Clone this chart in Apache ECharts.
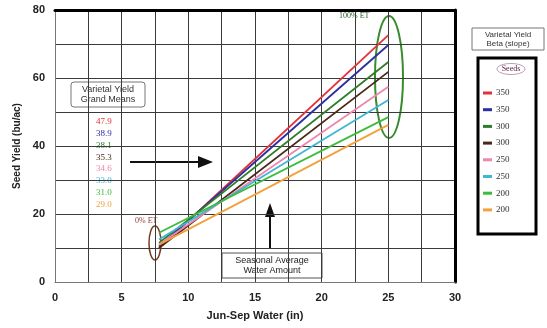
<!DOCTYPE html>
<html>
<head>
<meta charset="utf-8">
<script src="https://cdn.jsdelivr.net/npm/echarts@6/dist/echarts.min.js"></script>
<style>
  html, body { margin: 0; padding: 0; background: #fff; }
  #chart { width: 547px; height: 328px; }
</style>
</head>
<body>
<div id="chart"></div>
<script>
// seeding rates (legend) and the two ends of each line
const seedNames = ['350', '350 ', '300', '300 ', '250', '250 ', '200', '200  ']
const lineColors = ['#e2313a', '#2b2fa0', '#2e7d2a', '#4a2818', '#ee86ad', '#3fb6d2', '#3dbb3a', '#f2a13c']
const waterStart = 7.8
const waterEnd = 25
const yieldStart = [10, 10.5, 11.5, 10, 11, 12.5, 14.5, 11]
const yieldEnd = [72.6, 69.7, 64.7, 61.8, 57.4, 53.5, 48.5, 46.2]
const grandMeans = ['47.9', '38.9', '38.1', '35.3', '34.6', '33.0', '31.0', '29.0']

const chart = echarts.init(document.getElementById('chart'))

const series = seedNames.map((name, i) => {
  return {
    name: name,
    type: 'line',
    symbol: 'none',
    silent: true,
    lineStyle: { width: 1.8, color: lineColors[i] },
    itemStyle: { color: lineColors[i] },
    data: [[waterStart, yieldStart[i]], [waterEnd, yieldEnd[i]]]
  }
})

// grand means column
const meanTexts = grandMeans.map((v, i) => {
  return {
    type: 'text',
    x: 96,
    y: 117 + i * 11.9,
    style: { text: v, fill: lineColors[i], font: '9px "Liberation Serif"' }
  }
})

// small helper for centred annotation text
function label(text, cx, y, font, fill, lh) {
  return {
    type: 'text',
    x: cx,
    y: y,
    style: { text: text, fill: fill, font: font, lineHeight: lh, textAlign: 'center' }
  }
}

const option = {
  animation: false,
  backgroundColor: '#fff',
  grid: { left: 55, right: 92, top: 10, bottom: 46 },
  color: lineColors,
  legend: {
    orient: 'vertical',
    left: 478,
    top: 82,
    itemWidth: 9,
    itemHeight: 3,
    itemGap: 4.7,
    icon: 'rect',
    selectedMode: false,
    data: seedNames,
    formatter: name => name.trim(),
    textStyle: { fontSize: 9, lineHeight: 12, color: '#333', fontFamily: 'Liberation Serif', padding: [0, 0, 0, -1] }
  },
  xAxis: [{
    type: 'value',
    min: 0,
    max: 30,
    interval: 2.5,
    name: 'Jun-Sep Water (in)',
    nameLocation: 'middle',
    nameGap: 28,
    nameTextStyle: { fontFamily: 'Liberation Sans', fontWeight: 'bold', fontSize: 11, color: '#222' },
    axisLine: { show: true, onZero: false, lineStyle: { color: '#777', width: 1 } },
    axisTick: { show: false },
    axisLabel: {
      margin: 10,
      fontFamily: 'Liberation Sans',
      fontWeight: 'bold',
      fontSize: 11,
      color: '#222',
      formatter: v => (v % 5 === 0 ? String(v) : '')
    },
    splitLine: { show: true, lineStyle: { color: '#3a3a3a', width: 1 } }
  }, {
    type: 'value',
    position: 'top',
    min: 0,
    max: 30,
    axisLine: { show: true, onZero: false, lineStyle: { color: '#000', width: 3 } },
    axisTick: { show: false },
    axisLabel: { show: false },
    splitLine: { show: false }
  }],
  yAxis: [{
    type: 'value',
    min: 0,
    max: 80,
    interval: 10,
    name: 'Seed Yield (bu/ac)',
    nameLocation: 'middle',
    nameGap: 29,
    nameTextStyle: { fontFamily: 'Liberation Sans', fontWeight: 'bold', fontSize: 10, color: '#222' },
    axisLine: { show: true, onZero: false, lineStyle: { color: '#777', width: 1 } },
    axisTick: { show: false },
    axisLabel: {
      margin: 10,
      fontFamily: 'Liberation Sans',
      fontWeight: 'bold',
      fontSize: 11,
      color: '#222',
      formatter: v => (v % 20 === 0 ? String(v) : '')
    },
    splitLine: { show: true, lineStyle: { color: '#3a3a3a', width: 1 } }
  }, {
    type: 'value',
    position: 'right',
    min: 0,
    max: 80,
    axisLine: { show: true, onZero: false, lineStyle: { color: '#000', width: 3 } },
    axisTick: { show: false },
    axisLabel: { show: false },
    splitLine: { show: false }
  }],
  series: series,
  graphic: [
    // grand means label box
    {
      type: 'rect',
      shape: { x: 71, y: 82, width: 74, height: 25, r: 3 },
      style: { fill: '#fff', stroke: '#777', lineWidth: 1 }
    },
    label('Varietal Yield\nGrand Means', 108, 85, '9px "Liberation Sans"', '#333', 10),
    ...meanTexts,
    // horizontal arrow
    {
      type: 'line',
      shape: { x1: 130, y1: 162, x2: 200, y2: 162 },
      style: { stroke: '#111', lineWidth: 2 }
    },
    {
      type: 'polygon',
      shape: { points: [[198, 156], [213, 162], [198, 168]] },
      style: { fill: '#111' }
    },
    // vertical arrow
    {
      type: 'line',
      shape: { x1: 270, y1: 249, x2: 270, y2: 215 },
      style: { stroke: '#111', lineWidth: 2 }
    },
    {
      type: 'polygon',
      shape: { points: [[265, 217], [270, 203], [275, 217]] },
      style: { fill: '#111' }
    },
    // seasonal water box
    {
      type: 'rect',
      shape: { x: 222, y: 253, width: 100, height: 25 },
      style: { fill: '#fff', stroke: '#555', lineWidth: 1 }
    },
    label('Seasonal Average\nWater Amount', 272, 255, '9px "Liberation Sans"', '#222', 10.5),
    // 0% ET
    {
      type: 'text',
      x: 135,
      y: 217,
      style: { text: '0% ET', fill: '#8a3a3a', font: '8px "Liberation Serif"' }
    },
    {
      type: 'ellipse',
      shape: { cx: 155, cy: 243, rx: 6, ry: 17 },
      style: { fill: 'none', stroke: '#7a3a22', lineWidth: 1.5 }
    },
    // 100% ET
    {
      type: 'text',
      x: 339,
      y: 12,
      style: { text: '100% ET', fill: '#2a5a2a', font: '8px "Liberation Serif"' }
    },
    {
      type: 'ellipse',
      shape: { cx: 389, cy: 77, rx: 14, ry: 61 },
      style: { fill: 'none', stroke: '#3a8a2e', lineWidth: 2 }
    },
    // legend title and frame
    {
      type: 'rect',
      shape: { x: 472, y: 28, width: 72, height: 22 },
      style: { fill: '#fff', stroke: '#777', lineWidth: 1 }
    },
    label('Varietal Yield\nBeta (slope)', 508, 30, '8px "Liberation Sans"', '#333', 9.5),
    {
      type: 'rect',
      z: -1,
      shape: { x: 478, y: 58, width: 58, height: 176 },
      style: { fill: '#fff', stroke: '#000', lineWidth: 3 }
    },
    {
      type: 'ellipse',
      shape: { cx: 511, cy: 69, rx: 14, ry: 5.5 },
      style: { fill: 'none', stroke: '#b4a0b8', lineWidth: 1 }
    },
    label('Seeds', 511, 64, '8px "Liberation Serif"', '#5a1a3a', 10)
  ]
}

chart.setOption(option)
</script>
</body>
</html>
